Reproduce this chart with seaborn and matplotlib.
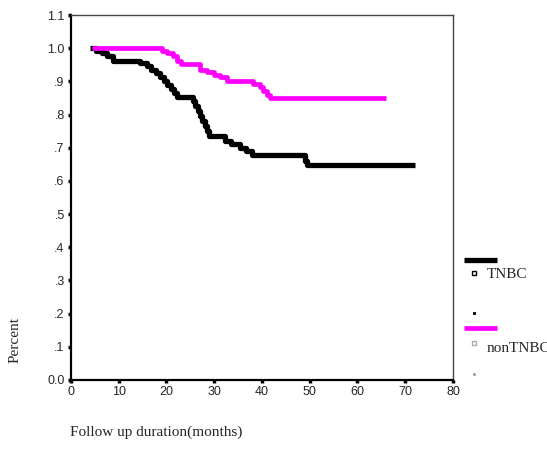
import matplotlib
matplotlib.use("Agg")
import matplotlib.pyplot as plt
import seaborn as sns
import pandas as pd
from matplotlib.lines import Line2D

sns.set_style("white")

# Kaplan-Meier style step data
tnbc_months = [4.0, 5.2, 6.4, 7.6, 8.8, 14.4, 15.9, 16.8, 17.7, 18.6, 19.4, 20.2, 21.0, 21.6, 22.2,
               25.5, 26.0, 26.5, 27.0, 27.5, 28.0, 28.5, 29.0, 32.2, 33.5, 35.4, 36.7, 38.0, 49.0, 49.4, 72.0]
tnbc_surv   = [1.0, 0.992, 0.984, 0.976, 0.962, 0.955, 0.946, 0.935, 0.924, 0.913, 0.902, 0.89, 0.878, 0.866, 0.852,
               0.84, 0.825, 0.81, 0.795, 0.78, 0.765, 0.75, 0.735, 0.72, 0.712, 0.70, 0.69, 0.678, 0.66, 0.648, 0.648]

non_months = [4.3, 19.0, 20.2, 21.4, 22.2, 23.0, 27.0, 28.5, 30.0, 31.2, 32.7, 38.1, 39.6, 40.3, 41.0, 41.7, 66.0]
non_surv   = [1.0, 0.993, 0.985, 0.975, 0.962, 0.952, 0.935, 0.927, 0.92, 0.912, 0.90, 0.893, 0.882, 0.87, 0.86, 0.85, 0.85]

group_names = ["TNBC", "nonTNBC"]
group_colors = ["#000000", "#ff00ff"]
y_ticks = [0.0, 0.1, 0.2, 0.3, 0.4, 0.5, 0.6, 0.7, 0.8, 0.9, 1.0, 1.1]
y_tick_labels = ["0.0", ".1", ".2", ".3", ".4", ".5", ".6", ".7", ".8", ".9", "1.0", "1.1"]
x_ticks = [0, 10, 20, 30, 40, 50, 60, 70, 80]

df = pd.concat([
    pd.DataFrame({"month": tnbc_months, "surv": tnbc_surv, "group": group_names[0]}),
    pd.DataFrame({"month": non_months, "surv": non_surv, "group": group_names[1]}),
])

fig = plt.figure(figsize=(5.47, 4.5), dpi=100)
ax = fig.add_axes([71/547, 1 - 380/450, (453 - 71)/547, (380 - 15)/450])

for name, col, lw in zip(group_names, group_colors, [3.8, 3.4]):
    sub = df[df["group"] == name]
    sns.lineplot(data=sub, x="month", y="surv", ax=ax, color=col, linewidth=lw,
                 drawstyle="steps-post", legend=False, solid_capstyle="butt")

ax.set_xlim(0, 80)
ax.set_ylim(0, 1.1)
ax.set_xticks(x_ticks)
ax.set_xticklabels([str(t) for t in x_ticks], family="Liberation Sans", fontsize=9)
ax.set_yticks(y_ticks)
ax.set_yticklabels(y_tick_labels, family="Liberation Sans", fontsize=9)
ax.tick_params(bottom=True, left=True, direction="out", length=2.5, width=2.5, color="black", pad=2)
ax.set_xlabel("")
ax.set_ylabel("")

for s in ["left", "bottom"]:
    ax.spines[s].set_color("black")
    ax.spines[s].set_linewidth(1.6)
for s in ["top", "right"]:
    ax.spines[s].set_color("#444444")
    ax.spines[s].set_linewidth(1.0)

# axis titles
fig.text(70/547, 1 - 432/450, "Follow up duration(months)", family="Liberation Serif",
         fontsize=11, ha="left", va="center")
fig.text(15/547, 1 - 340/450, "Percent", family="Liberation Serif", fontsize=11,
         rotation=90, ha="center", va="center")

# legend (manual, outside axes)
def fx(px):
    return px / 547
def fy(py):
    return 1 - py / 450

fig.add_artist(Line2D([fx(464), fx(497)], [fy(260), fy(260)], color=group_colors[0], lw=3.8,
                      solid_capstyle="butt"))
fig.add_artist(Line2D([fx(474)], [fy(273)], marker="s", markersize=3.5, markerfacecolor="white",
                      markeredgecolor="black", markeredgewidth=1.0, linestyle="none"))
fig.text(fx(487), fy(274), "TNBC", family="Liberation Serif", fontsize=11, ha="left", va="center")
fig.add_artist(Line2D([fx(474)], [fy(313)], marker="s", markersize=1.2, color="black", linestyle="none"))

fig.add_artist(Line2D([fx(464), fx(497)], [fy(328), fy(328)], color=group_colors[1], lw=3.4,
                      solid_capstyle="butt"))
fig.add_artist(Line2D([fx(474)], [fy(343)], marker="s", markersize=3.5, markerfacecolor="white",
                      markeredgecolor="#aaaaaa", markeredgewidth=1.0, linestyle="none"))
fig.text(fx(487), fy(348), "nonTNBC", family="Liberation Serif", fontsize=11, ha="left", va="center")
fig.add_artist(Line2D([fx(474)], [fy(374)], marker="s", markersize=1.0, color="#999999", linestyle="none"))

fig.savefig("out.png", dpi=100)
